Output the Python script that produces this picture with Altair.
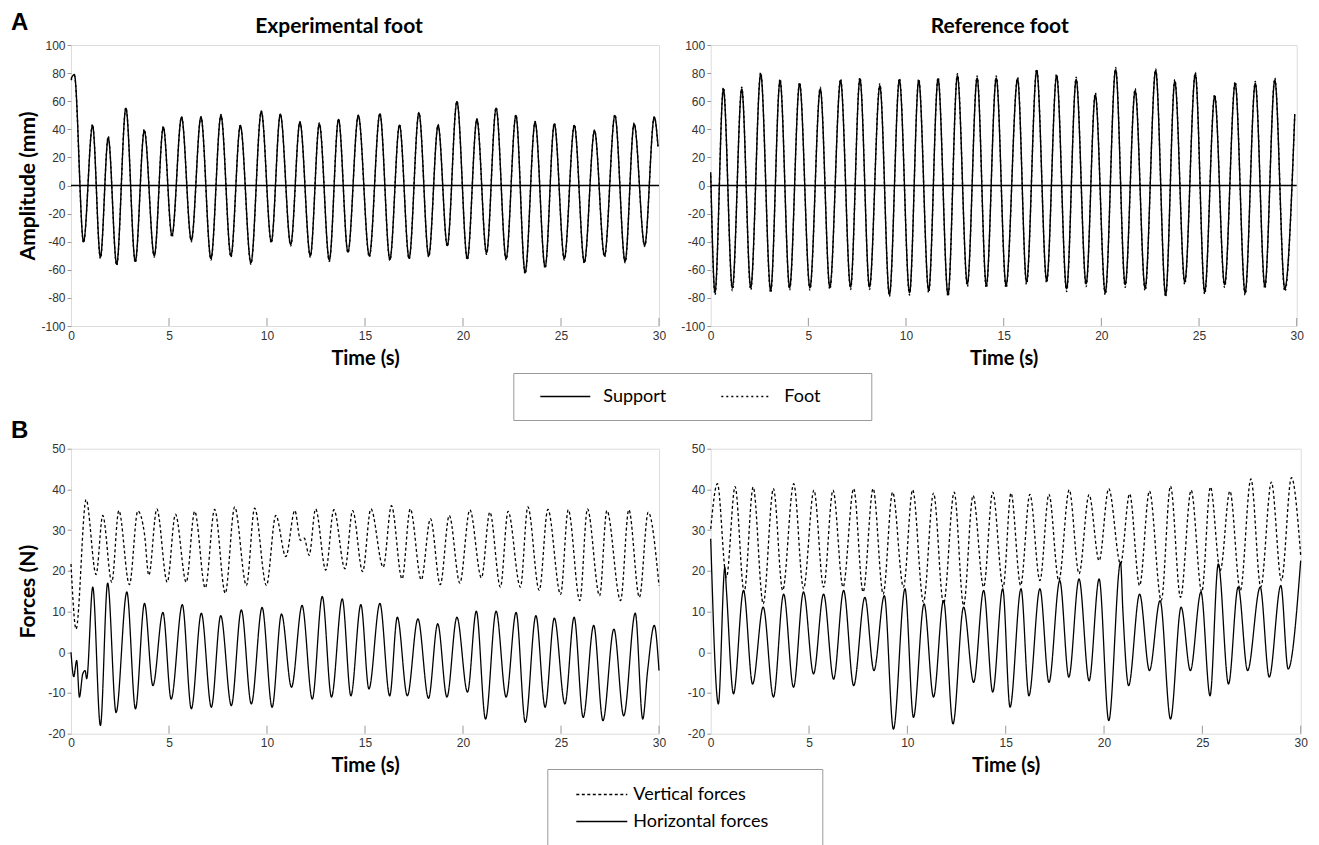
import altair as alt
import pandas as pd

# ---------------- Panel A (amplitude, mm) ----------------
a_left_time = [0.0, 0.17, 0.64, 1.10, 1.50, 1.90, 2.33, 2.80, 3.28, 3.74, 4.25, 4.71, 5.15, 5.64, 6.14, 6.63,
               7.14, 7.65, 8.16, 8.64, 9.18, 9.71, 10.22, 10.68, 11.21, 11.68, 12.21, 12.67, 13.18, 13.65,
               14.13, 14.66, 15.22, 15.76, 16.27, 16.76, 17.25, 17.75, 18.25, 18.73, 19.20, 19.69, 20.22,
               20.71, 21.20, 21.69, 22.20, 22.70, 23.17, 23.68, 24.19, 24.66, 25.17, 25.68, 26.19, 26.71,
               27.22, 27.75, 28.27, 28.73, 29.27, 29.76, 29.95]
a_left_support = [76, 79, -40, 42.7, -51, 34, -56, 55, -54, 39, -50, 41.5, -35.5, 48.6, -39, 48.6,
                  -52, 49.8, -50, 42.7, -55, 52.6, -40, 50.7, -42, 45, -50, 43.8, -53, 47,
                  -47.4, 49.8, -50, 51, -52.6, 43, -51.7, 51.7, -50, 42.7, -42.7, 59.7, -52,
                  47, -47.9, 55, -52, 49.8, -62, 45, -58, 43.8, -52, 42.7, -54.5, 39,
                  -50, 49.8, -54, 43.8, -42.7, 48.6, 28]
a_left_foot = [75, 78, -41, 43.5, -52, 35, -57, 55.5, -55, 40, -51, 42, -37, 49, -40, 49,
               -53, 50.5, -51, 43, -56, 53, -41, 51, -43, 45.5, -51, 44.5, -54, 47.5,
               -48, 50, -51, 51.5, -53.5, 43.5, -52.5, 52, -51, 43.5, -43.5, 60, -53,
               47.5, -49, 55.5, -53, 50.5, -63, 45.5, -59, 44.5, -53, 43.5, -55.5, 39.5,
               -51, 50.5, -55, 44.5, -43.5, 49, 27]

a_right_time = [0.0, 0.22, 0.65, 1.11, 1.59, 2.05, 2.56, 3.07, 3.55, 4.04, 4.55, 5.08, 5.61, 6.10, 6.65,
                7.16, 7.64, 8.13, 8.66, 9.15, 9.66, 10.18, 10.65, 11.16, 11.64, 12.15, 12.63, 13.14, 13.64,
                14.11, 14.62, 15.12, 15.71, 16.17, 16.69, 17.20, 17.71, 18.22, 18.71, 19.22, 19.69, 20.20,
                20.73, 21.22, 21.73, 22.24, 22.78, 23.29, 23.76, 24.27, 24.81, 25.29, 25.80, 26.31, 26.85,
                27.36, 27.88, 28.37, 28.88, 29.39, 29.90]
a_right_support = [9.5, -76, 68.7, -73, 68.7, -72.7, 79.4, -74.6, 74.6, -72.7, 72.3, -72.7, 68.7, -72.3, 74.6,
                   -72.3, 75.8, -72.3, 71, -77.7, 75, -76.3, 74.6, -74.6, 75.8, -77.7, 78.2, -70, 76.5,
                   -71, 76.5, -71, 75.8, -68.7, 81.8, -67.5, 78.2, -73.5, 75.4, -70, 64.5, -76.3,
                   82.5, -70.6, 67.5, -73, 81.8, -77.7, 74, -68.7, 79.4, -75.8, 63.5, -70.6, 72.7,
                   -76.3, 72.7, -71.6, 75, -73.5, 50]
a_right_foot = [7, -78, 70, -75, 70, -74.5, 80.5, -76.5, 76, -74.5, 73.5, -74.5, 70, -74, 76,
                -74, 77, -74, 72.5, -79, 76.5, -78, 76, -76.5, 77, -79, 79.5, -72, 78,
                -73, 78, -73, 77, -70.5, 83, -69.5, 79.5, -75.5, 77, -72, 66, -78,
                84, -72.5, 69, -75, 83, -79.5, 75.5, -70.5, 80.5, -77.5, 65, -72.5, 74,
                -78, 74, -73.5, 76.5, -75.5, 51]

# ---------------- Panel B (forces, N) ----------------
b_left_vert_time = [0.0, 0.26, 0.77, 1.28, 1.62, 2.08, 2.44, 2.98, 3.41, 3.75, 3.97, 4.38, 4.91, 5.33, 5.88,
                    6.31, 6.85, 7.33, 7.87, 8.35, 8.95, 9.37, 9.97, 10.45, 10.96, 11.42, 11.71, 11.90, 12.15,
                    12.48, 13.00, 13.41, 13.98, 14.37, 14.88, 15.30, 15.93, 16.35, 16.89, 17.31, 17.87, 18.34,
                    18.84, 19.30, 19.84, 20.35, 20.94, 21.37, 21.91, 22.30, 22.93, 23.31, 23.89, 24.33, 24.98,
                    25.37, 25.96, 26.35, 26.97, 27.34, 28.04, 28.46, 29.00, 29.45, 30.0]
b_left_vert = [21.7, 5.7, 37.5, 19.1, 33.6, 17.2, 34.8, 16.6, 34.7, 29, 18.9, 35.2, 17.2, 33.9, 17.2,
               34.6, 15.8, 35.1, 14.5, 35.7, 16.4, 35.4, 16.4, 33.6, 23.5, 34.8, 27.5, 28, 23.8,
               35.2, 20.2, 35, 20.5, 34.8, 19.8, 35.2, 20.9, 36, 18, 35.2, 17.8, 32.8,
               16.6, 33.6, 17, 35, 18.3, 34.4, 16, 34.6, 16, 35.7, 15.2, 35.1, 14.2,
               35, 12.7, 35.2, 13.9, 34.8, 12.7, 35, 13.5, 34.4, 16.4]
b_left_horiz_time = [0.0, 0.14, 0.29, 0.43, 0.60, 0.72, 0.80, 1.11, 1.50, 1.87, 2.30, 2.85, 3.29, 3.75, 4.18,
                     4.69, 5.11, 5.68, 6.14, 6.65, 7.16, 7.64, 8.18, 8.69, 9.20, 9.75, 10.26, 10.74, 11.25,
                     11.79, 12.31, 12.82, 13.29, 13.84, 14.28, 14.79, 15.20, 15.76, 16.26, 16.65, 17.16, 17.70,
                     18.24, 18.71, 19.18, 19.69, 20.23, 20.68, 21.15, 21.69, 22.20, 22.71, 23.18, 23.72, 24.19,
                     24.66, 25.20, 25.67, 26.13, 26.67, 27.14, 27.70, 28.20, 28.79, 29.17, 29.42, 29.76, 30.0]
b_left_horiz = [0, -6, -2, -11, -5.3, -4.5, -6.5, 16, -18, 17, -14.8, 14.8, -13.9, 12, -8.2,
                9.8, -11.5, 11.7, -13.9, 9.6, -13.5, 9, -13.1, 10.4, -12.7, 11, -13.5, 9.4, -8.6,
                11.5, -11.5, 13.7, -11, 13.1, -10.7, 11.7, -9, 12, -10.7, 8.6, -10.7, 8.2,
                -11.3, 7, -11, 8.6, -9.8, 10.1, -16.4, 10.1, -11, 9.8, -17.2, 9, -13.5,
                8.4, -12.7, 8.6, -16, 6.6, -16.8, 5.7, -15.6, 9.6, -16.4, -4.5, 6.6, -4.5]

b_right_vert_time = [0.0, 0.34, 0.80, 1.24, 1.70, 2.16, 2.67, 3.19, 3.66, 4.22, 4.72, 5.25, 5.74, 6.22, 6.73,
                     7.27, 7.75, 8.26, 8.77, 9.25, 9.80, 10.27, 10.82, 11.33, 11.84, 12.38, 12.86, 13.34, 13.88,
                     14.34, 14.87, 15.27, 15.76, 16.23, 16.74, 17.20, 17.70, 18.23, 18.73, 19.24, 19.75, 20.24,
                     20.84, 21.30, 21.81, 22.31, 22.91, 23.38, 23.89, 24.43, 24.97, 25.41, 25.91, 26.40, 26.93,
                     27.47, 27.97, 28.51, 29.02, 29.53, 30.0]
b_right_vert = [30.3, 41.4, 18.4, 40.7, 14.8, 40.6, 11.9, 40.2, 15.2, 41.4, 15.6, 39.8, 16, 39.8, 16,
                40.2, 14.8, 40.2, 14.3, 39.3, 16, 39.9, 12.3, 39.1, 11.9, 39.3, 11.5, 38.5, 16,
                39.3, 16, 39.1, 16.4, 38.8, 17.6, 38.8, 17.6, 39.9, 19.3, 38.7, 22.5, 40.2,
                21.7, 38.9, 16.4, 39.6, 12.7, 40.8, 13.5, 39.8, 14.8, 40.6, 20.1, 39.6, 15.2,
                42.6, 16, 41.8, 17.6, 42.9, 23.8]
b_right_horiz_time = [0.0, 0.09, 0.17, 0.39, 0.72, 0.80, 1.16, 1.67, 2.13, 2.67, 3.19, 3.71, 4.21, 4.72, 5.23,
                      5.74, 6.25, 6.76, 7.27, 7.84, 8.30, 8.83, 9.29, 9.88, 10.31, 10.85, 11.33, 11.84, 12.32,
                      12.86, 13.37, 13.88, 14.34, 14.85, 15.22, 15.78, 16.18, 16.74, 17.20, 17.75, 18.21, 18.73,
                      19.24, 19.75, 20.24, 20.84, 20.96, 21.25, 21.81, 22.31, 22.85, 23.38, 23.92, 24.39, 24.93,
                      25.39, 25.81, 26.33, 26.82, 27.30, 27.94, 28.40, 28.99, 29.36, 30.0]
b_right_horiz = [27.9, 14.3, 2.9, -12.7, 20.9, 15.2, -10.2, 15.2, -7.8, 11.1, -11, 14.3, -8.6, 14.8, -5.3,
                 14.3, -6.6, 15.2, -8.2, 13.5, -4.5, 13.9, -18.9, 15.6, -16, 11.9, -11, 12.7, -17.6,
                 11.1, -7.4, 15.2, -9.8, 15.6, -13.5, 15.6, -10.7, 15.6, -7.4, 17.6, -6.1, 18,
                 -7, 18, -16.8, 22.1, 10, -8.2, 14.3, -4.5, 12.7, -16.4, 11.1, -4.5, 14.8,
                 -10.7, 21.7, -7.8, 16, -4.5, 16, -6.1, 16.4, -4.1, 22.5]

x_ticks = [0, 5, 10, 15, 20, 25, 30]
a_y_ticks = [-100, -80, -60, -40, -20, 0, 20, 40, 60, 80, 100]
b_y_ticks = [-20, -10, 0, 10, 20, 30, 40, 50]
legend_a = ["Support", "Foot"]
legend_b = ["Vertical forces", "Horizontal forces"]
panel_titles = ["Experimental foot", "Reference foot"]
panel_letters = ["A", "B"]

TFONT = "Lato"
LFONT = "Liberation Sans"
GREY = "#9a9a9a"
NBSP = "\u00a0"
ZWSP = "\u200b"


def frame(t, v, name):
    return pd.DataFrame({"t": t, "v": v, "series": name})


def x_enc():
    return alt.X("t:Q", scale=alt.Scale(domain=[0, 30], nice=False, zero=False),
                 axis=alt.Axis(values=x_ticks, title="Time (s)", titleFont=TFONT, titleFontSize=20,
                               titleFontWeight="bold", titleColor="black", titlePadding=7,
                               labelFont=LFONT, labelFontSize=12, labelColor="#333333", labelPadding=4,
                               labelFlush=False, labelOverlap=False, ticks=False, domain=False, grid=False,
                               labelExpr="'' + datum.value"))


def y_enc(domain, ticks, title, pad):
    kw = dict(values=ticks, labelFont=LFONT, labelFontSize=12, labelColor="#333333", labelPadding=2,
              tickColor=GREY, tickSize=4, domain=False, grid=False, labelOverlap=False,
              labelExpr="'' + datum.value")
    if title:
        kw.update(title=title, titleFont=TFONT, titleFontSize=21, titleFontWeight="bold",
                  titleColor="black", titlePadding=pad)
    else:
        kw.update(title=None)
    return alt.Y("v:Q", scale=alt.Scale(domain=domain, nice=False, zero=False), axis=alt.Axis(**kw))


legend_a_spec = alt.Legend(
    title=None, orient="none", legendX=442.3, legendY=328, direction="horizontal",
    strokeColor=GREY, fillColor="white", padding=13.5, symbolType="stroke", symbolSize=2500,
    symbolStrokeWidth=1.5, symbolStrokeColor="black", symbolOffset=12.5, clipHeight=20,
    labelFont=TFONT, labelFontSize=18, labelColor="black", labelOffset=12, columnPadding=41,
    labelLimit=500, labelExpr="datum.label == 'Foot' ? 'Foot" + NBSP * 8 + ZWSP + "' : datum.label")

legend_b_spec = alt.Legend(
    title=None, orient="none", legendX=476.3, legendY=320.3, direction="vertical",
    strokeColor=GREY, fillColor="white", padding=12, symbolType="stroke", symbolSize=2601,
    symbolStrokeWidth=1.5, symbolStrokeColor="black", symbolOffset=16, clipHeight=27, rowPadding=0,
    labelFont=TFONT, labelFontSize=18, labelColor="black", labelOffset=5, labelLimit=500,
    labelExpr="datum.label == 'Horizontal forces' ? datum.label + '" + NBSP * 9 + ZWSP + "' : datum.label")


def letter_layer(letter, y):
    return alt.Chart(pd.DataFrame({"letter": [letter]})).mark_text(
        font=LFONT, fontSize=24, fontWeight="bold", align="left", baseline="top", color="black"
    ).encode(text="letter:N", x=alt.value(-60), y=alt.value(y))


def tick_layer(height):
    return alt.Chart(pd.DataFrame({"t": x_ticks[1:]})).mark_rule(color=GREY, strokeWidth=1).encode(
        x=x_enc(), y=alt.value(height - 8), y2=alt.value(height))


def panel_a(df, title, dx, dy, ytitle, legend, width, letter=None):
    yenc = y_enc([-100, 100], a_y_ticks, ytitle, 2)
    lines = alt.Chart(df).mark_line(color="black", strokeWidth=1.4, interpolate="monotone").encode(
        x=x_enc(),
        y=yenc,
        strokeDash=alt.StrokeDash("series:N", scale=alt.Scale(domain=legend_a, range=[[1, 0], [2, 3]]),
                                  legend=legend),
    )
    zero = alt.Chart(pd.DataFrame({"v": [0]})).mark_rule(color="black", strokeWidth=1.5).encode(y=yenc)
    layers = [lines, zero, tick_layer(281)]
    if letter:
        layers.append(letter_layer(letter, -34))
    return alt.layer(*layers).properties(
        width=width, height=281,
        title=alt.Title(title, font=TFONT, fontSize=21, fontWeight="bold", color="black",
                        offset=2, dx=dx, dy=dy, anchor="middle"))


def panel_b(df, ytitle, legend, width, letter=None):
    lines = alt.Chart(df).mark_line(color="black", strokeWidth=1.3, interpolate="monotone").encode(
        x=x_enc(),
        y=y_enc([-20, 50], b_y_ticks, ytitle, 9),
        strokeDash=alt.StrokeDash("series:N", scale=alt.Scale(domain=legend_b, range=[[3, 2.5], [1, 0]]),
                                  legend=legend),
    )
    layers = [lines, tick_layer(285)]
    if letter:
        layers.append(letter_layer(letter, -30))
    return alt.layer(*layers).properties(width=width, height=285)


df_al = pd.concat([frame(a_left_time, a_left_support, legend_a[0]),
                   frame(a_left_time, a_left_foot, legend_a[1])])
df_ar = pd.concat([frame(a_right_time, a_right_support, legend_a[0]),
                   frame(a_right_time, a_right_foot, legend_a[1])])
df_bl = pd.concat([frame(b_left_vert_time, b_left_vert, legend_b[0]),
                   frame(b_left_horiz_time, b_left_horiz, legend_b[1])])
df_br = pd.concat([frame(b_right_vert_time, b_right_vert, legend_b[0]),
                   frame(b_right_horiz_time, b_right_horiz, legend_b[1])])

al = panel_a(df_al, panel_titles[0], -26, 28, "Amplitude (mm)", legend_a_spec, 588, panel_letters[0])
ar = panel_a(df_ar, panel_titles[1], -4, 0, None, None, 586)
bl = panel_b(df_bl, "Forces (N)", legend_b_spec, 588, panel_letters[1])
br = panel_b(df_br, None, None, 590)

chart = alt.concat(
    al, ar, bl, br, columns=2, spacing={"row": 122.7, "column": 51.7}, bounds="flush"
).resolve_scale(
    x="independent", y="independent", strokeDash="independent"
).resolve_legend(
    strokeDash="independent"
).properties(
    padding={"left": 2, "top": 2, "right": 0, "bottom": 0}
).configure_view(
    stroke=GREY, strokeWidth=1
).configure(background="white")

chart.save("out.html", embed_options={"renderer": "svg", "actions": False})
